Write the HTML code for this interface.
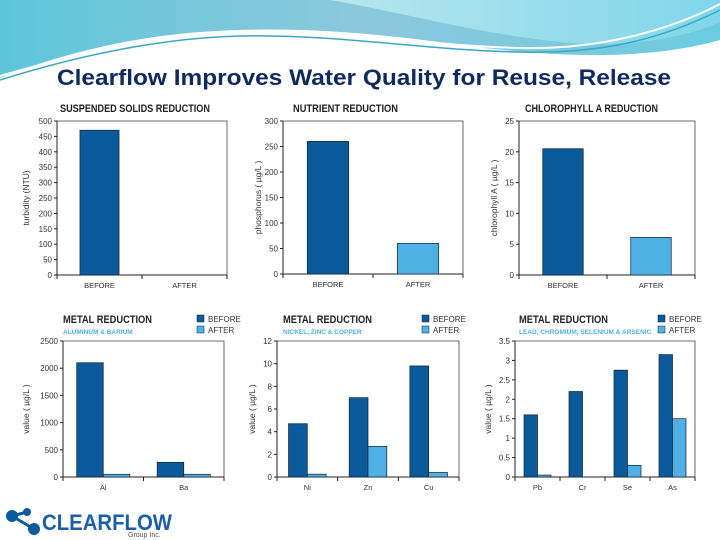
<!DOCTYPE html>
<html><head><meta charset="utf-8"><style>
html,body{margin:0;padding:0;background:#fff;}
svg{display:block;font-family:"Liberation Sans",sans-serif;}
</style></head><body>
<svg id="s" width="720" height="540" viewBox="0 0 720 540">
<defs>
<linearGradient id="g1" x1="0" y1="0" x2="1" y2="0"><stop offset="0" stop-color="#5ec6da"/><stop offset="0.5" stop-color="#8cc8dc"/><stop offset="1" stop-color="#6ccbe0"/></linearGradient>
<linearGradient id="g2" x1="0" y1="0" x2="1" y2="0"><stop offset="0" stop-color="#b8e6ec"/><stop offset="1" stop-color="#7fd6ea"/></linearGradient>
</defs>
<g>
<path d="M0 0H720V40C650 60 560 58 470 46C380 34 300 25 200 32C120 38 50 58 0 78Z" fill="url(#g1)"/>
<path d="M330 0H720V22C680 40 620 48 560 42C480 34 400 12 330 0Z" fill="url(#g2)"/>
<path d="M0 80C80 55 160 38 240 36C340 34 420 50 520 52C600 54 660 40 720 10" fill="none" stroke="#3aa7c4" stroke-width="1.5"/>
<path d="M0 76C90 50 170 34 250 32C340 30 430 46 520 48C600 50 670 30 720 4" fill="none" stroke="#ffffff" stroke-width="2"/>
</g>
<text x="57" y="85" textLength="614" lengthAdjust="spacingAndGlyphs" font-size="22" font-weight="bold" fill="#10295e">Clearflow Improves Water Quality for Reuse, Release</text>
<g id="charts"></g>
<g>
<circle cx="12" cy="516" r="6" fill="#0a5a9c"/><circle cx="27" cy="512" r="4" fill="#0a5a9c"/><circle cx="34" cy="529" r="6" fill="#0a5a9c"/>
<path d="M12 516L27 512M12 516L34 529" stroke="#0a5a9c" stroke-width="3"/>
<text x="42" y="530" font-size="22" font-weight="bold" fill="#1a5fa8" textLength="130" lengthAdjust="spacingAndGlyphs">CLEARFLOW</text>
<text x="128" y="537" font-size="7" fill="#555">Group Inc.</text>
</g>
</svg>
<script>
const DARK='#0a5a9c', LIGHT='#4fb0e6';
const c1Cats=['BEFORE','AFTER'], c1Vals=[470,0], c1Ticks=[0,50,100,150,200,250,300,350,400,450,500];
const c2Cats=['BEFORE','AFTER'], c2Vals=[260,60], c2Ticks=[0,50,100,150,200,250,300];
const c3Cats=['BEFORE','AFTER'], c3Vals=[20.5,6.1], c3Ticks=[0,5,10,15,20,25];
const c4Cats=['Al','Ba'], c4Before=[2100,270], c4After=[50,50], c4Ticks=[0,500,1000,1500,2000,2500];
const c5Cats=['Ni','Zn','Cu'], c5Before=[4.7,7.0,9.8], c5After=[0.25,2.7,0.4], c5Ticks=[0,2,4,6,8,10,12];
const c6Cats=['Pb','Cr','Se','As'], c6Before=[1.6,2.2,2.75,3.15], c6After=[0.05,0,0.3,1.5], c6Ticks=[0,0.5,1,1.5,2,2.5,3,3.5];
const NS='http://www.w3.org/2000/svg', root=document.getElementById('charts');
function mk(t,a,p){const e=document.createElementNS(NS,t);for(const k in a)e.setAttribute(k,a[k]);(p||root).appendChild(e);return e;}
function chart(o){
 const g=mk('g',{});
 
 
 const {x0,x1,y0,y1}=o, max=o.ticks[o.ticks.length-1];
 const ys=v=>y1-(v/max)*(y1-y0);
 mk('path',{d:`M${x0} ${y0}H${x1}V${y1}`,fill:'none',stroke:'#444','stroke-width':0.8},g);
 mk('line',{x1:x0,y1:y0,x2:x0,y2:y1,stroke:'#222','stroke-width':1},g);
 mk('line',{x1:x0,y1:y1,x2:x1,y2:y1,stroke:'#222','stroke-width':1},g);
 o.ticks.forEach(t=>{const y=ys(t);
  mk('line',{x1:x0-3,y1:y,x2:x0,y2:y,stroke:'#222'},g);
  const tx=mk('text',{x:x0-5,y:y+3,'font-size':8,'text-anchor':'end',fill:'#333'},g);tx.textContent=t;
  
  });
 const n=o.cats.length, cw=(x1-x0)/n;
 for(let i=0;i<=n;i++) mk('line',{x1:x0+i*cw,y1:y1,x2:x0+i*cw,y2:y1+4,stroke:'#222'},g);
 o.cats.forEach((c,i)=>{const cx=x0+cw*(i+0.5);
  const tx=mk('text',{x:cx,y:y1+13,'font-size':7.5,'text-anchor':'middle',fill:'#333'},g);tx.textContent=c;
  
  
  if(o.single){const bw=cw*0.46,v=o.vals[i];
   const r=mk('rect',{x:cx-bw/2,y:ys(v),width:bw,height:y1-ys(v),fill:i?LIGHT:DARK,stroke:'#123',"stroke-width":0.7},g);
   
   
  } else {const bw=cw*o.bwf;
   [[o.before[i],DARK,-1],[o.after[i],LIGHT,0]].forEach(([v,col,off],k)=>{
    const r=mk('rect',{x:cx+off*bw+(o.shift||0),y:ys(v),width:bw,height:y1-ys(v),fill:col,stroke:'#123',"stroke-width":0.7},g);
    
    });}
 });
 const yl=mk('text',{transform:`translate(${x0-o.ylOff},${(y0+y1)/2}) rotate(-90)`,'font-size':8.5,'text-anchor':'middle',fill:'#333'},g);yl.textContent=o.ylabel;
 
 
 const tt=mk('text',{x:o.tx,y:o.ty,'font-size':11,'font-weight':'bold',fill:'#222',textLength:o.tl,lengthAdjust:'spacingAndGlyphs'},g);tt.textContent=o.title;
 
 
 if(o.sub){const st=mk('text',{x:o.tx,y:o.ty+11,'font-size':6.5,'font-weight':'bold',fill:'#4fb0e6'},g);st.textContent=o.sub;
  
  }
 if(o.lx){[['BEFORE',DARK],['AFTER',LIGHT]].forEach(([l,col],k)=>{
  const lg=mk('g',{},g);
  
  
  mk('rect',{x:o.lx,y:o.ty-8+k*11,width:7,height:7,fill:col,stroke:'#123','stroke-width':0.5},lg);
  const t=mk('text',{x:o.lx+11,y:o.ty-1+k*11,'font-size':8,fill:'#333'},lg);t.textContent=l;});}
}
chart({name:'suspended-solids-chart',x0:57,x1:227,y0:121,y1:275,ticks:c1Ticks,cats:c1Cats,vals:c1Vals,single:true,ylabel:'turbidity (NTU)',ylOff:28,title:'SUSPENDED SOLIDS REDUCTION',tx:60,ty:112,tl:150});
chart({name:'nutrient-chart',x0:283,x1:463,y0:121,y1:274,ticks:c2Ticks,cats:c2Cats,vals:c2Vals,single:true,ylabel:'phosphorus ( µg/L )',ylOff:22,title:'NUTRIENT REDUCTION',tx:293,ty:112,tl:105});
chart({name:'chlorophyll-chart',x0:519,x1:695,y0:121,y1:275,ticks:c3Ticks,cats:c3Cats,vals:c3Vals,single:true,ylabel:'chlorophyll A ( µg/L )',ylOff:22,title:'CHLOROPHYLL A REDUCTION',tx:525,ty:112,tl:133});
chart({name:'metal-al-ba-chart',x0:63,x1:224,y0:341,y1:477,ticks:c4Ticks,cats:c4Cats,before:c4Before,after:c4After,bwf:0.33,ylabel:'value ( µg/L )',ylOff:34,title:'METAL REDUCTION',tx:63,ty:323,tl:89,sub:'ALUMINUM & BARIUM',lx:197});
chart({name:'metal-ni-zn-cu-chart',x0:277,x1:459,y0:341,y1:477,ticks:c5Ticks,cats:c5Cats,before:c5Before,after:c5After,bwf:0.31,ylabel:'value ( µg/L )',ylOff:22,title:'METAL REDUCTION',tx:283,ty:323,tl:89,sub:'NICKEL, ZINC & COPPER',lx:422});
chart({name:'metal-pb-cr-se-as-chart',x0:515,x1:695,y0:341,y1:477,ticks:c6Ticks,cats:c6Cats,before:c6Before,after:c6After,bwf:0.3,ylabel:'value ( µg/L )',ylOff:24,title:'METAL REDUCTION',tx:519,ty:323,tl:89,sub:'LEAD, CHROMIUM, SELENIUM & ARSENIC',lx:658});
</script>
</body></html>
